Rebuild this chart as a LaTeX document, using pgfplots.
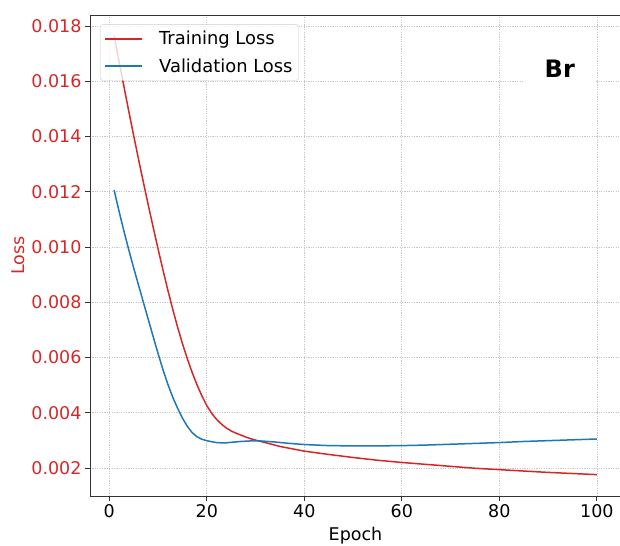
\documentclass[border=0pt]{standalone}
\usepackage{pgfplots}
\usepackage{pgfplotstable}
\pgfplotsset{compat=1.18}
\usepackage{fontspec}
\setmainfont{DejaVu Sans}
\definecolor{tabred}{HTML}{D62728}
\definecolor{tabblue}{HTML}{1F77B4}

% Loss per epoch
\pgfplotstableread{
epoch loss
1   0.01765
2   0.01673
3   0.01582
4   0.01492
5   0.01404
6   0.01318
7   0.01234
8   0.01152
9   0.01072
10  0.00994
11  0.00918
12  0.00845
13  0.00776
14  0.00711
15  0.00651
16  0.00596
17  0.00546
18  0.00501
19  0.00461
20  0.00426
21  0.00398
22  0.00376
23  0.00359
24  0.00345
25  0.00334
26  0.00326
27  0.00319
28  0.00312
29  0.00306
30  0.00301
32  0.00292
35  0.00278
40  0.00261
45  0.00249
50  0.00238
55  0.00228
60  0.00220
65  0.00213
70  0.00206
75  0.00199
80  0.00194
85  0.00189
90  0.00184
95  0.00180
100 0.00176
}\trainloss

\pgfplotstableread{
epoch loss
1   0.01206
2   0.01130
3   0.01058
4   0.00990
5   0.00925
6   0.00862
7   0.00800
8   0.00738
9   0.00676
10  0.00615
11  0.00557
12  0.00504
13  0.00457
14  0.00417
15  0.00381
16  0.00351
17  0.00328
18  0.00313
19  0.00304
20  0.00299
21  0.00295
22  0.00292
23  0.00291
24  0.00291
25  0.00293
27  0.00296
29  0.00298
31  0.00298
34  0.00294
37  0.00289
40  0.00285
45  0.00281
50  0.00280
55  0.00280
60  0.00281
65  0.00283
70  0.00286
75  0.00289
80  0.00292
85  0.00296
90  0.00299
95  0.00302
100 0.00305
}\valloss

\begin{document}
\begin{tikzpicture}
\begin{axis}[
  name=ax,
  scale only axis,
  width=531bp, height=481bp,
  xmin=-3.95, xmax=104.95,
  ymin=0.000986, ymax=0.0184,
  xtick={0,20,40,60,80,100},
  ytick={0.002,0.004,0.006,0.008,0.010,0.012,0.014,0.016,0.018},
  scaled y ticks=false,
  /pgf/number format/assume math mode=true,
  yticklabel style={/pgf/number format/.cd, fixed, fixed zerofill, precision=3, /tikz/.cd, text=tabred},
  tick align=outside, tick pos=left,
  major tick length=5bp,
  every tick/.style={black!80, line width=0.9bp},
  axis line style={black!80, line width=0.9bp},
  grid=major,
  major grid style={black!22, line width=0.7bp, dash pattern=on 1.2bp off 1.2bp},
  tick label style={font=\fontsize{17.5bp}{21bp}\selectfont},
  xlabel={Epoch}, ylabel={Loss},
  every axis x label/.style={at={(axis description cs:0.5,-0.083)}, anchor=center,
    font=\fontsize{17.5bp}{21bp}\selectfont},
  every axis y label/.style={at={(axis description cs:-0.135,0.5)}, rotate=90, anchor=center,
    text=tabred, font=\fontsize{17.5bp}{21bp}\selectfont},
  legend style={at={(axis description cs:0.0188,0.981)}, anchor=north west,
    draw=black!20, rounded corners=3bp, fill=white, fill opacity=0.8, text opacity=1,
    font=\fontsize{17.9bp}{21bp}\selectfont, inner xsep=4bp, inner ysep=5bp,
    row sep=8bp,
    /tikz/every odd column/.append style={column sep=14bp}},
  legend cell align=left,
  legend image code/.code={\draw[#1, line width=2bp] (0bp,0bp) -- (37bp,0bp);},
]
\addplot[tabred, line width=1.5bp] table[x=epoch, y=loss] {\trainloss};
\addlegendentry{Training Loss}
\addplot[tabblue, line width=1.5bp] table[x=epoch, y=loss] {\valloss};
\addlegendentry{Validation Loss}
\node[fill=white, minimum width=71bp, minimum height=60bp,
      font=\bfseries\fontsize{24bp}{28bp}\selectfont]
  at (axis cs:92.4,0.01644) {Br};
\end{axis}
\pgfresetboundingbox
\useasboundingbox ([xshift=-90bp,yshift=-50bp]ax.south west) rectangle ([xshift=-1bp,yshift=15bp]ax.north east);
\end{tikzpicture}
\end{document}
